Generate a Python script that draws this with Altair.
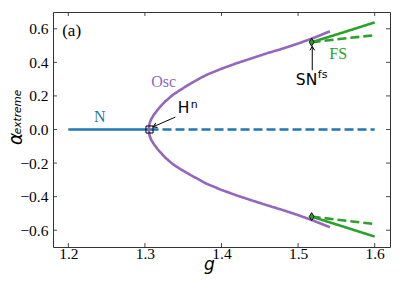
import altair as alt
import pandas as pd

# ---- data ----
n_g_stable = [1.2, 1.306]
n_g_unstable = [1.306, 1.6]

osc_g = [1.305, 1.306, 1.308, 1.312, 1.318, 1.326, 1.336, 1.346, 1.36, 1.38,
         1.40, 1.42, 1.44, 1.46, 1.48, 1.50, 1.52, 1.5415]
osc_upper = [0.0, 0.035, 0.06, 0.09, 0.125, 0.165, 0.205, 0.235, 0.275, 0.325,
             0.362, 0.395, 0.425, 0.455, 0.482, 0.512, 0.545, 0.585]
osc_lower = [0.0, -0.035, -0.06, -0.09, -0.125, -0.165, -0.205, -0.235, -0.272, -0.322,
             -0.36, -0.393, -0.423, -0.452, -0.48, -0.51, -0.543, -0.582]

fs_g = [1.5177, 1.56, 1.6]
fs_up_stable = [0.52, 0.58, 0.638]
fs_up_unstable = [0.52, 0.542, 0.562]
fs_lo_stable = [-0.519, -0.58, -0.638]
fs_lo_unstable = [-0.519, -0.542, -0.563]

hopf_pt = (1.306, 0.0)
sn_pts_g = [1.5177, 1.5177]
sn_pts_a = [0.52, -0.519]

x_ticks = [1.2, 1.3, 1.4, 1.5, 1.6]
y_ticks = [-0.6, -0.4, -0.2, 0.0, 0.2, 0.4, 0.6]

W, H = 337, 235
BLUE, PURPLE, GREEN = "#1f77b4", "#9467bd", "#2ca02c"
SERIF = "Liberation Serif, Times New Roman, serif"

rows = []
def add(branch, kind, stab, gs, avals):
    for i, (g, a) in enumerate(zip(gs, avals)):
        rows.append(dict(branch=branch, kind=kind, stab=stab, g=g, a=a, idx=i))

add("N_s", "N", "stable", n_g_stable, [0.0, 0.0])
add("N_u", "N", "unstable", n_g_unstable, [0.0, 0.0])
add("Osc", "Osc", "stable", osc_g[::-1] + osc_g[1:], osc_upper[::-1] + osc_lower[1:])
add("FS_us", "FS", "stable", fs_g, fs_up_stable)
add("FS_uu", "FS", "unstable", fs_g, fs_up_unstable)
add("FS_ls", "FS", "stable", fs_g, fs_lo_stable)
add("FS_lu", "FS", "unstable", fs_g, fs_lo_unstable)
curves = pd.DataFrame(rows)

xs = alt.Scale(domain=[1.18, 1.62], nice=False, zero=False)
ys = alt.Scale(domain=[-0.7, 0.7], nice=False, zero=False)

X_AXIS = alt.Axis(values=x_ticks, format=".1f", title="g",
                  titleX=156, titleY=22, titleBaseline="alphabetic", titleAlign="center",
                  labelOverlap=False, labelPadding=-1)
Y_AXIS = alt.Axis(values=y_ticks, format=".1f", title=None,
                  labelOverlap=False, labelPadding=5)

def gx():
    return alt.X("g:Q", scale=xs, axis=X_AXIS)

def gy():
    return alt.Y("a:Q", scale=ys, axis=Y_AXIS)

lines = alt.Chart(curves).mark_line(strokeWidth=2.6, strokeCap="butt").encode(
    x=gx(), y=gy(),
    color=alt.Color("kind:N", scale=alt.Scale(domain=["N", "Osc", "FS"], range=[BLUE, PURPLE, GREEN]), legend=None),
    strokeDash=alt.StrokeDash("stab:N", scale=alt.Scale(domain=["stable", "unstable"], range=[[1, 0], [9, 4]]), legend=None),
    detail="branch:N",
    order="idx:Q",
)

sq = alt.Chart(pd.DataFrame({"g": [hopf_pt[0]], "a": [hopf_pt[1]]})).mark_point(
    shape="square", size=50, filled=False, color="black", strokeWidth=1, opacity=1
).encode(x=gx(), y=gy())

dia = alt.Chart(pd.DataFrame({"g": sn_pts_g, "a": sn_pts_a})).mark_point(
    shape="M0,-1L0.6,0L0,1L-0.6,0Z", size=64, filled=True, fill=GREEN, stroke="black",
    strokeWidth=0.9, opacity=1, fillOpacity=1
).encode(x=gx(), y=gy())

# arrows
arrow_df = pd.DataFrame({"g": [1.3398, 1.5185], "a": [0.074, 0.353],
                         "g2": [1.3107, 1.5185], "a2": [0.016, 0.495]})
arrow_lines = alt.Chart(arrow_df).mark_rule(color="black", strokeWidth=1).encode(
    x=gx(), y=gy(), x2="g2:Q", y2="a2:Q")
head_df = pd.DataFrame({"g": [1.3107, 1.5185], "a": [0.016, 0.495], "ang": [247, 0]})
heads = alt.Chart(head_df).mark_point(
    shape="M-0.6,1L0,0L0.6,1", size=60, filled=False, color="black", strokeWidth=1, opacity=1
).encode(x=gx(), y=gy(), angle=alt.Angle("ang:Q", scale=None))

# labels
serif_df = pd.DataFrame({
    "g": [1.2043, 1.241, 1.3245, 1.5524],
    "a": [0.587, 0.072, 0.283, 0.452],
    "t": ["(a)", "N", "Osc", "FS"],
    "c": ["black", BLUE, PURPLE, GREEN],
    "s": [17, 16, 16, 16],
})
serif_txt = alt.Chart(serif_df).mark_text(font=SERIF, baseline="middle").encode(
    x=gx(), y=gy(), text="t:N", color=alt.Color("c:N", scale=None),
    size=alt.Size("s:Q", scale=None, legend=None))

sans_big = pd.DataFrame({"g": [1.3505, 1.511], "a": [0.1255, 0.293], "t": ["H", "SN"]})
sans_big_txt = alt.Chart(sans_big).mark_text(font="DejaVu Sans", fontSize=15.5, baseline="middle", color="black").encode(
    x=gx(), y=gy(), text="t:N")
sans_sup = pd.DataFrame({"g": [1.3645, 1.532], "a": [0.148, 0.323], "t": ["n", "fs"]})
sans_sup_txt = alt.Chart(sans_sup).mark_text(font="DejaVu Sans", fontSize=11, baseline="middle", color="black").encode(
    x=gx(), y=gy(), text="t:N")

# y-axis title: alpha with subscript "extreme"
alpha_txt = alt.Chart(pd.DataFrame({"t": ["α"]})).mark_text(
    font="DejaVu Sans", fontStyle="italic", fontSize=18.5, angle=270, baseline="middle", align="center", color="black"
).encode(x=alt.value(-37), y=alt.value(127), text="t:N")
sub_txt = alt.Chart(pd.DataFrame({"t": ["extreme"]})).mark_text(
    font="DejaVu Sans", fontStyle="italic", fontSize=10.5, angle=270, baseline="middle", align="center", color="black"
).encode(x=alt.value(-35.5), y=alt.value(100), text="t:N")

# inward ticks
xt = pd.DataFrame({"g": x_ticks})
yt = pd.DataFrame({"a": y_ticks})
tick_style = dict(color="#333", strokeWidth=0.9)
t_bottom = alt.Chart(xt).mark_rule(**tick_style).encode(x=gx(), y=alt.value(H), y2=alt.value(H - 4))
t_top = alt.Chart(xt).mark_rule(**tick_style).encode(x=gx(), y=alt.value(0), y2=alt.value(4))
t_left = alt.Chart(yt).mark_rule(**tick_style).encode(y=gy(), x=alt.value(0), x2=alt.value(4))
t_right = alt.Chart(yt).mark_rule(**tick_style).encode(y=gy(), x=alt.value(W), x2=alt.value(W - 4))

chart = alt.layer(
    lines, t_bottom, t_top, t_left, t_right, sq, dia, arrow_lines, heads,
    serif_txt, sans_big_txt, sans_sup_txt, alpha_txt, sub_txt
).properties(
    width=W, height=H,
    autosize=alt.AutoSizeParams(type="none"),
    padding={"left": 45, "top": 4, "right": 9, "bottom": 36},
).configure_view(
    stroke="#333", strokeWidth=1
).configure_axis(
    grid=False, ticks=False, domain=False,
    labelFont=SERIF, labelFontSize=15.5, labelColor="black",
    titleFont="DejaVu Sans", titleFontStyle="italic", titleFontWeight="normal",
    titleFontSize=17, titleColor="black",
)

chart.save("out.html", embed_options={"renderer": "svg", "actions": False})
